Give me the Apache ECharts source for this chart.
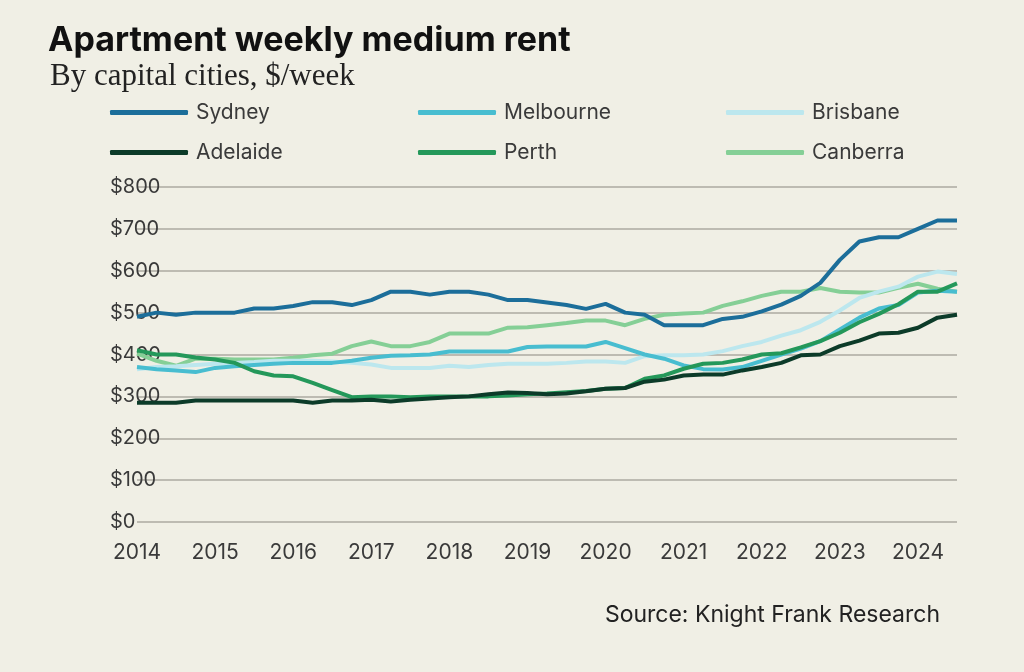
<!DOCTYPE html>
<html>
<head>
<meta charset="utf-8">
<script src="https://cdn.jsdelivr.net/npm/echarts@6/dist/echarts.min.js"></script>
<style>
  html, body { margin: 0; padding: 0; background: #f0efe5; }
  #main { width: 1024px; height: 672px; }
</style>
</head>
<body>
<div id="main"></div>
<script>
var years = ['2014', '2015', '2016', '2017', '2018', '2019', '2020', '2021', '2022', '2023', '2024'];
var quarters = [];
years.forEach(function (y) {
  ['Q1', 'Q2', 'Q3', 'Q4'].forEach(function (q) { quarters.push(y + ' ' + q); });
});
quarters = quarters.slice(0, 43); // data ends 2024 Q3

var sydney = [490, 500, 495, 500, 500, 500, 510, 510, 516, 525, 525, 518,
  530, 550, 550, 543, 550, 550, 543, 530, 530, 524, 518, 509,
  521, 500, 495, 470, 470, 470, 485, 490, 503, 519, 540, 571,
  626, 670, 680, 680, 700, 720, 720];
var melbourne = [370, 365, 362, 358, 368, 372, 375, 378, 380, 380, 380, 385,
  392, 397, 398, 400, 407, 407, 407, 407, 418, 419, 419, 419,
  430, 415, 400, 390, 374, 365, 364, 370, 385, 400, 414, 432,
  460, 488, 510, 518, 548, 552, 550];
var brisbane = [365, 370, 372, 375, 378, 380, 382, 385, 385, 385, 383, 380,
  376, 368, 368, 368, 373, 370, 375, 378, 378, 378, 380, 383,
  383, 380, 396, 398, 398, 400, 408, 420, 430, 445, 458, 478,
  505, 535, 550, 562, 586, 598, 592];
var adelaide = [285, 285, 285, 290, 290, 290, 290, 290, 290, 285, 290, 290,
  292, 288, 292, 295, 298, 300, 305, 309, 308, 305, 307, 312,
  318, 320, 335, 340, 350, 352, 352, 362, 370, 380, 398, 400,
  420, 433, 450, 452, 464, 488, 495];
var perth = [410, 400, 400, 393, 388, 380, 360, 350, 348, 332, 315, 298,
  300, 300, 298, 300, 300, 300, 300, 302, 305, 307, 310, 313,
  318, 320, 342, 350, 366, 378, 380, 388, 400, 403, 417, 432,
  452, 477, 497, 520, 550, 550, 570];
var canberra = [402, 385, 373, 390, 390, 388, 388, 388, 392, 398, 402, 420,
  431, 420, 420, 430, 450, 450, 450, 464, 465, 470, 475, 481,
  481, 470, 485, 495, 498, 500, 516, 527, 540, 550, 550, 559,
  550, 548, 548, 559, 569, 557, 550];

var cities = ['Sydney', 'Melbourne', 'Brisbane', 'Adelaide', 'Perth', 'Canberra'];
var values = [sydney, melbourne, brisbane, adelaide, perth, canberra];
var colors = ['#1c6e9a', '#48bdd0', '#bce7ee', '#0c3b29', '#24985a', '#85cf96'];

var chartDom = document.getElementById('main');
var myChart = echarts.init(chartDom, null, { renderer: 'canvas' });

var series = [];
var legends = [];
// draw order: light ones first so dark lines sit on top
var order = [5, 2, 1, 4, 3, 0];
order.forEach(function (i) {
  series.push({
    type: 'line',
    name: cities[i],
    data: values[i],
    symbol: 'none',
    lineStyle: { width: 4, color: colors[i] },
    itemStyle: { color: colors[i] },
    animation: false,
  });
});
for (let i = 0; i < cities.length; i++) {
  legends.push({
    data: [cities[i]],
    left: 110 + (i % 3) * 308,
    top: i < 3 ? 102 : 142,
    padding: 0,
    icon: 'roundRect',
    itemWidth: 78,
    itemHeight: 5,
    textStyle: { fontFamily: 'Inter', fontSize: 21, color: '#3a3a3a', padding: [0, 0, 0, 3] },
    selectedMode: false,
  });
}

var option = {
  backgroundColor: '#f0efe5',
  title: [
    {
      text: 'Apartment weekly medium rent',
      left: 48,
      top: 24,
      padding: 0,
      textStyle: { fontFamily: 'Inter', fontWeight: 'bold', fontSize: 34, color: '#111' },
    },
    {
      text: 'By capital cities, $/week',
      left: 50,
      top: 61,
      padding: 0,
      textStyle: { fontFamily: 'Liberation Serif', fontWeight: 'normal', fontSize: 31, color: '#222' },
    },
    {
      text: 'Source: Knight Frank Research',
      right: 84,
      top: 604,
      padding: 0,
      textStyle: { fontFamily: 'Inter', fontWeight: 'normal', fontSize: 23, color: '#222' },
    },
  ],
  legend: legends,
  grid: { left: 137, right: 67, top: 187, bottom: 150 },
  xAxis: {
    type: 'category',
    data: quarters,
    boundaryGap: false,
    axisLine: { show: false },
    axisTick: { show: false },
    axisLabel: {
      interval: 3,
      margin: 20,
      fontFamily: 'Inter',
      fontSize: 21,
      color: '#3a3a3a',
      formatter: function (v) { return v.slice(0, 4); },
    },
  },
  yAxis: {
    type: 'value',
    min: 0,
    max: 800,
    interval: 100,
    axisLabel: {
      align: 'left',
      margin: 27,
      fontFamily: 'Inter',
      fontSize: 20,
      color: '#3a3a3a',
      formatter: '${value}',
    },
    splitLine: { lineStyle: { color: '#bdbbb2', width: 2 } },
  },
  series: series,
};
myChart.setOption(option);
</script>
</body>
</html>
